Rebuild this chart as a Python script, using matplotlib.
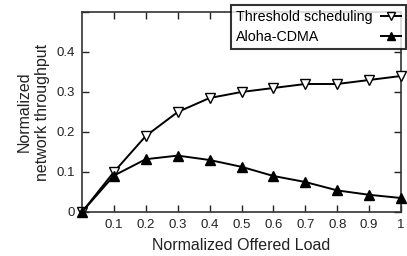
import matplotlib
matplotlib.use("Agg")
import matplotlib.pyplot as plt

# --- data ---
load = [0, 0.1, 0.2, 0.3, 0.4, 0.5, 0.6, 0.7, 0.8, 0.9, 1.0]
threshold = [0, 0.10, 0.19, 0.25, 0.285, 0.30, 0.31, 0.32, 0.32, 0.33, 0.34]
aloha = [0, 0.091, 0.132, 0.141, 0.13, 0.113, 0.09, 0.075, 0.054, 0.043, 0.035]

x_ticks = [0.1, 0.2, 0.3, 0.4, 0.5, 0.6, 0.7, 0.8, 0.9, 1]
x_labels = ["0.1", "0.2", "0.3", "0.4", "0.5", "0.6", "0.7", "0.8", "0.9", "1"]
y_ticks = [0, 0.1, 0.2, 0.3, 0.4]
y_labels = ["0", "0.1", "0.2", "0.3", "0.4"]

plt.rcParams['font.family'] = ['Liberation Sans', 'DejaVu Sans']

fig = plt.figure(figsize=(4.07, 2.56), dpi=100)
ax = fig.add_axes([82 / 407, 1 - 212 / 256, (401 - 82) / 407, (212 - 12) / 256])

ax.plot(load, threshold, color="black", linewidth=1.4, marker="v", markersize=7,
        markerfacecolor="white", markeredgecolor="black", markeredgewidth=1.0,
        label="Threshold scheduling", clip_on=False, zorder=3)
ax.plot(load, aloha, color="black", linewidth=1.4, marker="^", markersize=7,
        markerfacecolor="black", markeredgecolor="black",
        label="Aloha-CDMA", clip_on=False, zorder=3)

ax.set_xlim(0, 1)
ax.set_ylim(0, 0.5)
ax.set_xticks(x_ticks)
ax.set_xticklabels(x_labels)
ax.set_yticks(y_ticks + [0.5])
ax.set_yticklabels(y_labels + [""])
ax.tick_params(direction="in", top=True, right=True, length=5, width=1.0,
               labelsize=9.5, colors="#222222", pad=5)
for s in ax.spines.values():
    s.set_linewidth(1.2)
    s.set_color("#333333")

ax.set_xlabel("Normalized Offered Load", fontsize=11.5, color="#222222", labelpad=5)
ax.set_ylabel("Normalized\nnetwork throughput", fontsize=11.5, color="#222222",
              labelpad=5, linespacing=1.25)

leg = ax.legend(loc="upper right", bbox_to_anchor=(1.016, 1.035), markerfirst=False,
                fontsize=10.3, frameon=True, fancybox=False, edgecolor="black",
                handlelength=1.4, borderpad=0.35, labelspacing=0.4, handletextpad=0.6,
                borderaxespad=0, markerscale=0.85)
leg.get_frame().set_linewidth(1.5)
leg.set_zorder(5)

# left-align the legend texts while keeping the markers on the right
fig.canvas.draw()
renderer = fig.canvas.get_renderer()
items = leg._legend_handle_box.get_children()[0].get_children()
widths = [t.get_window_extent(renderer).width for t in leg.get_texts()]
wmax = max(widths)
for item, w in zip(items, widths):
    item.sep += (wmax - w) * 72 / fig.dpi

fig.savefig("out.png", dpi=100)
